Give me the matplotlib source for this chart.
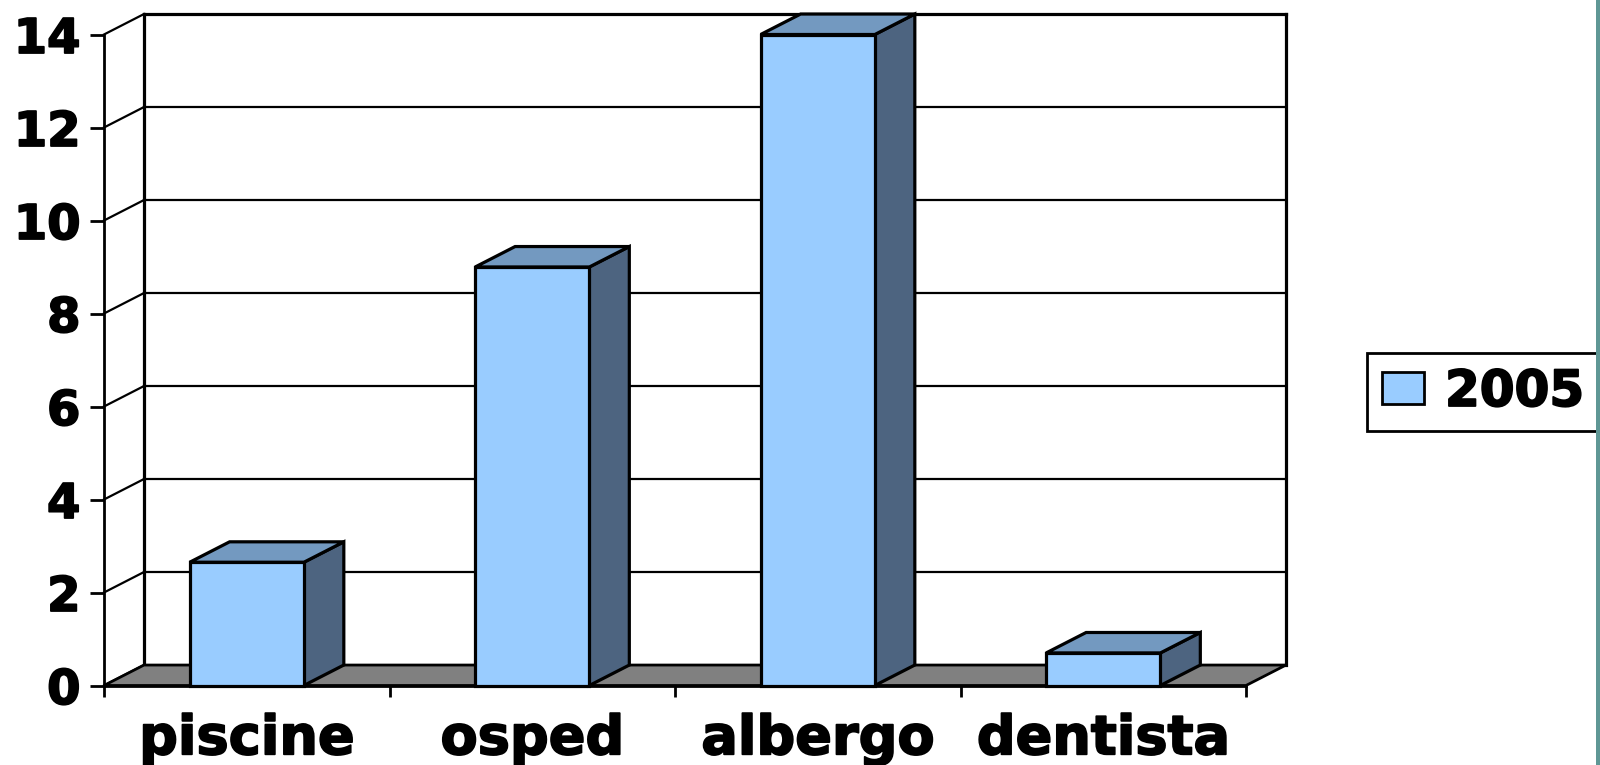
import matplotlib.pyplot as plt
import matplotlib.patheffects as pe
from matplotlib.patches import Polygon, Rectangle, FancyBboxPatch

# === Data
categories = ["piscine", "osped", "albergo", "dentista"]
values_2005 = [2.65, 9, 14, 0.7]
series_name = "2005"
y_ticks = [0, 2, 4, 6, 8, 10, 12, 14]

# === Style
front_col = "#99CCFF"
top_col = "#7399C0"
side_col = "#4D6480"
floor_col = "#808080"
font = "DejaVu Sans"
heavy = [pe.withStroke(linewidth=1.3, foreground="black")]

# depth offset of the 3D box (data units)
dx, dy = 0.14, 0.44
bar_w = 0.4

fig = plt.figure(figsize=(16, 7.65), dpi=100)
ax = fig.add_axes([104 / 1600, 1 - 685.5 / 765, (1246 - 104) / 1600, (685.5 - 34.5) / 765])
ax.set_xlim(0, len(categories))
ax.set_ylim(0, y_ticks[-1])
ax.patch.set_visible(False)

n = len(categories)
ymax = y_ticks[-1]

def poly(pts, fc, lw=2.3, z=3):
    p = Polygon(pts, closed=True, facecolor=fc, edgecolor="black",
                linewidth=lw, joinstyle="miter", clip_on=False, zorder=z)
    ax.add_patch(p)

# === Back wall and side wall
ax.plot([dx, n + dx], [ymax + dy, ymax + dy], color="black", lw=2.3, clip_on=False, zorder=2)
ax.plot([dx, dx], [dy, ymax + dy], color="black", lw=2.3, clip_on=False, zorder=2)
ax.plot([n + dx, n + dx], [dy, ymax + dy], color="black", lw=2.3, clip_on=False, zorder=2)
for v in y_ticks[1:-1]:
    ax.plot([dx, n + dx], [v + dy, v + dy], color="black", lw=1.6, clip_on=False, zorder=1)
for v in y_ticks:
    ax.plot([0, dx], [v, v + dy], color="black", lw=1.6, clip_on=False, zorder=1)

# === Floor
poly([(0, 0), (n, 0), (n + dx, dy), (dx, dy)], floor_col, lw=2.0, z=2)

# === Bars
for i, v in enumerate(values_2005):
    x0 = i + 0.5 - bar_w / 2
    x1 = i + 0.5 + bar_w / 2
    poly([(x1, 0), (x1 + dx, dy), (x1 + dx, v + dy), (x1, v)], side_col)
    poly([(x0, v), (x1, v), (x1 + dx, v + dy), (x0 + dx, v + dy)], top_col)
    poly([(x0, 0), (x1, 0), (x1, v), (x0, v)], front_col)

# === Axes, ticks and labels
for s in ["top", "right"]:
    ax.spines[s].set_visible(False)
for s in ["left", "bottom"]:
    ax.spines[s].set_linewidth(2.0)
    ax.spines[s].set_zorder(5)

ax.set_yticks(y_ticks)
ax.set_yticklabels([str(t) for t in y_ticks], fontsize=34.5, fontweight="bold", family=font)
ax.tick_params(axis="y", direction="out", length=10, width=2.0, pad=7)

ax.set_xticks(range(n + 1))
ax.set_xticklabels([])
ax.set_xticks([i + 0.5 for i in range(n)], minor=True)
ax.set_xticklabels(categories, minor=True, fontsize=39, fontweight="bold", family=font)
ax.tick_params(axis="x", which="major", direction="out", length=8, width=2.0)
ax.tick_params(axis="x", which="minor", length=0, pad=20)

for lbl in ax.get_yticklabels() + ax.get_xticklabels(minor=True):
    lbl.set_path_effects(heavy)

# === Legend
handle = Rectangle((0, 0), 1, 1, facecolor=front_col, edgecolor="black", linewidth=2.0)
leg = fig.legend([handle], [series_name], loc="upper left",
                 bbox_to_anchor=(1367 / 1600, 1 - 353 / 765), borderaxespad=0,
                 prop={"family": font, "weight": "bold", "size": 36},
                 handlelength=0.83, handleheight=0.61, handletextpad=0.43,
                 borderpad=0.3, fancybox=False, framealpha=1)
leg.get_frame().set_edgecolor("black")
leg.get_frame().set_linewidth(2.0)
for t in leg.get_texts():
    t.set_path_effects(heavy)

# === Slide border at the right edge
fig.patches.append(FancyBboxPatch((1596 / 1600, -0.05), 0.02, 1.1,
                                  boxstyle="round,pad=0,rounding_size=0.004",
                                  transform=fig.transFigure, facecolor="#5F9795",
                                  edgecolor="none", zorder=10))

fig.savefig("out.png", dpi=100)
